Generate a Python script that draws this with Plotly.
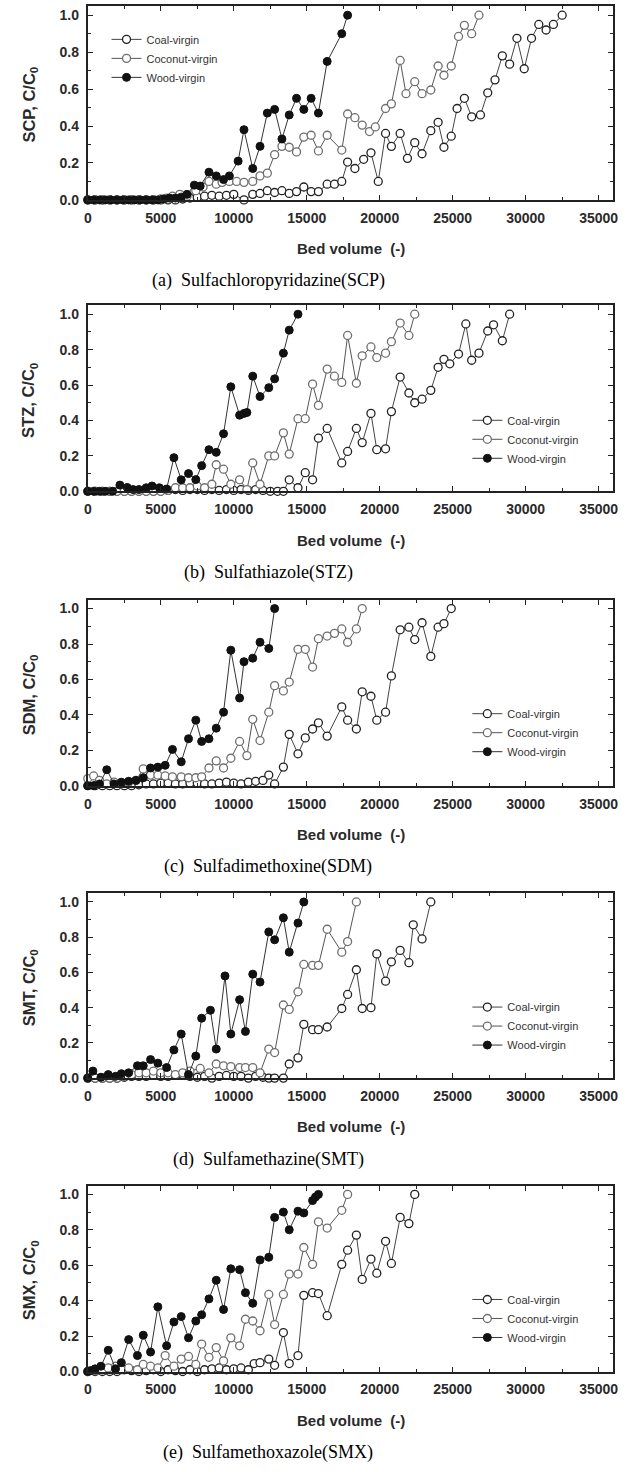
import plotly.graph_objects as go

# ---------------- data ----------------
# (a) SCP
scp_coal_x = [0,500,1000,1500,2000,2500,3000,3500,4000,4500,5000,5500,6000,6500,7000,7500,8000,8500,9000,9500,10000,
              10700,11300,11800,12300,12800,13300,13800,14300,14800,15300,15800,16400,16900,17400,17800,18300,18900,19400,
              19900,20400,20800,21400,21900,22400,22900,23500,24000,24400,24900,25300,25800,26300,26900,27400,27900,28400,
              28900,29400,29900,30400,30900,31400,31900,32500]
scp_coal_y = [0,0,0,0,0,0,0,0,0,0,0,0,0,0.005,0.01,0.015,0.02,0.025,0.02,0.025,0.03,
              0.0,0.03,0.035,0.05,0.04,0.05,0.035,0.045,0.07,0.045,0.045,0.085,0.085,0.1,0.205,0.17,0.22,0.255,
              0.1,0.36,0.29,0.36,0.225,0.31,0.25,0.375,0.42,0.285,0.345,0.495,0.55,0.45,0.46,0.58,0.65,0.78,
              0.735,0.875,0.71,0.875,0.95,0.92,0.95,1.0]
scp_coco_x = [0,500,1000,1500,2000,2500,3000,3500,4000,4500,5000,5400,5800,6300,6800,7400,7900,8300,8800,9200,9700,
              10200,10700,11300,11800,12300,12800,13300,13800,14300,14800,15300,15800,16400,17400,17800,18300,18800,
              19300,19700,20400,20800,21400,21800,22400,22900,23500,24000,24400,24900,25400,25800,26300,26800]
scp_coco_y = [0,0,0,0,0,0,0,0,0,0,0.005,0.01,0.02,0.03,0.02,0.05,0.07,0.1,0.085,0.095,0.1,
              0.1,0.095,0.1,0.13,0.145,0.245,0.29,0.285,0.26,0.34,0.35,0.265,0.35,0.27,0.465,0.445,0.405,
              0.37,0.395,0.495,0.52,0.755,0.575,0.64,0.575,0.595,0.725,0.675,0.725,0.885,0.945,0.9,1.0]
scp_wood_x = [0,400,800,1200,1600,2000,2400,2800,3200,3600,4000,4400,4800,5200,5600,6000,6400,6800,7300,7700,
              8300,8800,9300,9700,10300,10700,11300,11800,12300,12800,13300,13800,14300,14800,15300,15800,16400,17400,17800]
scp_wood_y = [0,0,0,0,0,0,0,0,0,0,0,0,0,0.005,0.01,0.01,0.015,0.03,0.08,0.075,
              0.15,0.13,0.11,0.13,0.21,0.38,0.17,0.29,0.47,0.49,0.33,0.46,0.55,0.49,0.55,0.47,0.75,0.90,1.0]

# (b) STZ
stz_coal_x = [0,500,1000,1500,2000,2500,3000,3500,4000,4500,5000,5500,6000,6500,7000,7500,8000,8500,9000,9500,10000,
              10500,11000,11500,12000,12500,13000,13400,13800,14400,14900,15400,15800,16400,17400,17800,18400,18800,
              19400,19800,20400,20800,21400,22000,22400,22900,23500,24000,24400,24800,25400,25900,26300,26800,27400,
              27800,28400,28900]
stz_coal_y = [0,0,0,0,0,0,0,0,0,0,0,0.005,0.01,0.005,0.01,0.01,0.005,0.01,0.005,0.01,0.005,
              0.01,0.005,0.01,0.005,0.0,0.0,0.0,0.065,0.02,0.105,0.065,0.3,0.355,0.16,0.225,0.355,0.275,
              0.44,0.235,0.24,0.45,0.645,0.555,0.5,0.52,0.57,0.7,0.745,0.72,0.775,0.945,0.74,0.78,0.905,
              0.94,0.85,1.0]
stz_coco_x = [0,500,1000,1500,2000,2500,3000,3500,4000,4500,5000,5500,6000,6500,7000,7500,8000,8500,8800,9300,9800,
              10400,10900,11300,11800,12400,12800,13400,13800,14400,14900,15400,15800,16400,16900,17400,17800,18400,
              18800,19400,19800,20400,20800,21400,22000,22400]
stz_coco_y = [0,0,0,0,0,0,0,0,0,0,0,0.005,0.02,0.02,0.02,0.03,0.02,0.04,0.15,0.125,0.04,
              0.065,0.01,0.16,0.04,0.2,0.2,0.33,0.21,0.41,0.41,0.605,0.485,0.69,0.65,0.615,0.88,0.61,
              0.765,0.815,0.755,0.78,0.845,0.95,0.88,1.0]
stz_wood_x = [0,400,800,1200,1700,2200,2700,3100,3500,4000,4400,4900,5400,5900,6400,6900,7400,7800,8300,8800,9300,
              9800,10400,10700,10900,11300,11800,12400,12800,13400,13800,14400]
stz_wood_y = [0,0,0,0,0,0.035,0.022,0.01,0.01,0.02,0.03,0.02,0.013,0.19,0.065,0.1,0.066,0.145,0.235,0.22,0.325,
              0.59,0.43,0.44,0.445,0.65,0.535,0.585,0.635,0.78,0.91,1.0]

# (c) SDM
sdm_coal_x = [0,500,1000,1500,2000,2500,3000,3500,4000,4500,5000,5500,6000,6500,7000,7500,8000,8500,9000,9500,10000,
              10500,11000,11500,12000,12400,12800,13400,13800,14400,14900,15400,15800,16400,17400,17800,18400,18800,
              19400,19800,20400,20800,21400,22000,22400,22900,23500,24000,24400,24900]
sdm_coal_y = [0,0,0,0,0,0,0,0.005,0.01,0.01,0.015,0.015,0.01,0.01,0.015,0.015,0.01,0.01,0.015,0.02,0.015,
              0.01,0.02,0.025,0.03,0.06,0.01,0.105,0.29,0.18,0.27,0.32,0.355,0.28,0.445,0.37,0.32,0.53,
              0.505,0.37,0.415,0.62,0.88,0.895,0.825,0.92,0.73,0.895,0.915,1.0]
sdm_coco_x = [0,400,800,1300,1800,2300,2800,3300,3800,4300,4800,5300,5800,6400,6900,7400,7800,8300,8800,9300,9800,
              10400,10900,11300,11800,12400,12800,13400,13800,14400,14900,15400,15800,16400,16900,17400,17800,18400,18800]
sdm_coco_y = [0.04,0.055,0.03,0.01,0.02,0.01,0.02,0.03,0.095,0.06,0.06,0.055,0.05,0.05,0.045,0.045,0.05,0.1,0.14,0.1,
              0.155,0.25,0.17,0.375,0.255,0.415,0.565,0.535,0.585,0.77,0.77,0.67,0.83,0.845,0.86,0.885,0.81,0.885,1.0]
sdm_wood_x = [0,400,800,1300,1800,2300,2800,3300,3800,4300,4800,5300,5800,6400,6900,7400,7800,8300,8800,9300,9800,
              10400,10700,11300,11800,12400,12800]
sdm_wood_y = [0,0,0.01,0.09,0.01,0.02,0.025,0.03,0.045,0.1,0.105,0.115,0.205,0.135,0.265,0.37,0.25,0.265,0.325,0.415,
              0.765,0.495,0.7,0.72,0.81,0.775,1.0]

# (d) SMT
smt_coal_x = [0,500,1000,1500,2000,2500,3000,3500,4000,4500,5000,5500,6000,6500,7000,7500,8000,8500,9000,9500,10000,
              10500,11000,11500,12000,12400,12800,13400,13800,14400,14800,15400,15800,16400,17400,17800,18400,18800,
              19400,19800,20400,20800,21400,22000,22300,22900,23500]
smt_coal_y = [0,0,0,0,0,0.005,0.01,0.01,0.01,0.015,0.01,0.01,0.015,0.02,0.01,0.005,0.01,0.0,0.01,0.015,0.01,
              0.01,0.0,0.01,0.005,0.0,0.0,0.0,0.08,0.115,0.305,0.275,0.275,0.29,0.395,0.475,0.615,0.395,
              0.4,0.705,0.55,0.66,0.725,0.655,0.87,0.79,1.0]
smt_coco_x = [0,500,1000,1500,2000,2500,3000,3500,4000,4500,5000,5500,6000,6500,7000,7700,8300,8800,9300,9800,
              10400,10800,11300,11800,12400,12800,13400,13800,14400,14800,15400,15800,16400,17400,17800,18400]
smt_coco_y = [0,0,0,0,0,0.01,0.02,0.03,0.03,0.04,0.03,0.03,0.02,0.03,0.04,0.055,0.03,0.08,0.07,0.065,
              0.06,0.06,0.06,0.03,0.165,0.145,0.415,0.39,0.49,0.645,0.64,0.64,0.845,0.715,0.775,1.0]
smt_wood_x = [0,350,900,1400,1900,2300,2800,3400,3800,4300,4800,5400,5900,6400,6900,7400,7800,8400,8800,9400,9800,
              10400,10800,11300,11800,12400,12800,13400,13800,14400,14800]
smt_wood_y = [0,0.04,0.005,0.02,0.01,0.025,0.03,0.07,0.07,0.105,0.085,0.06,0.16,0.25,0.02,0.125,0.34,0.385,0.165,0.58,
              0.25,0.445,0.265,0.59,0.545,0.83,0.785,0.91,0.715,0.88,1.0]

# (e) SMX
smx_coal_x = [0,500,1000,1500,2000,2500,3000,3500,4000,4500,5000,5500,6000,6500,7000,7500,8000,8500,9000,9500,10000,
              10500,11000,11400,11800,12400,12800,13400,13800,14400,14800,15400,15800,16400,17400,17800,18400,18800,
              19400,19800,20400,20800,21400,22000,22400]
smx_coal_y = [0,0,0,0,0,0.01,0.005,0.0,0.005,0.01,0.0,0.01,0.005,0.0,0.01,0.0,0.01,0.015,0.02,0.01,0.015,
              0.02,0.01,0.045,0.05,0.07,0.035,0.22,0.045,0.09,0.43,0.445,0.44,0.315,0.605,0.685,0.77,0.52,
              0.635,0.555,0.735,0.61,0.87,0.835,1.0]
smx_coco_x = [0,500,1000,1400,1900,2300,2800,3400,3800,4300,4800,5300,5900,6400,6900,7400,7800,8300,8800,9300,9800,
              10400,10800,11300,11800,12400,12800,13400,13800,14400,14800,15400,15800,16400,17400,17800]
smx_coco_y = [0,0.005,0.01,0.02,0.03,0.01,0.02,0.01,0.04,0.03,0.02,0.09,0.03,0.07,0.085,0.04,0.155,0.08,0.135,0.06,
              0.19,0.145,0.295,0.285,0.23,0.435,0.265,0.435,0.55,0.55,0.7,0.605,0.845,0.81,0.91,1.0]
smx_wood_x = [0,200,500,900,1400,1900,2300,2800,3400,3800,4300,4800,5400,5900,6400,6900,7400,7800,8300,8800,9300,
              9800,10400,10800,11300,11800,12400,12800,13400,13800,14400,14800,15400,15600,15800]
smx_wood_y = [0,0.005,0.015,0.03,0.12,0.015,0.05,0.18,0.09,0.205,0.11,0.365,0.145,0.28,0.31,0.19,0.285,0.32,0.41,0.515,
              0.35,0.58,0.575,0.445,0.385,0.63,0.645,0.87,0.9,0.8,0.905,0.895,0.965,0.985,1.0]

series_names = ["Coal-virgin", "Coconut-virgin", "Wood-virgin"]
x_ticks = [0, 5000, 10000, 15000, 20000, 25000, 30000, 35000]
y_ticks = [0.0, 0.2, 0.4, 0.6, 0.8, 1.0]

panel_data = [
    ("SCP", "(a)  Sulfachloropyridazine(SCP)", [(scp_coal_x, scp_coal_y), (scp_coco_x, scp_coco_y), (scp_wood_x, scp_wood_y)]),
    ("STZ", "(b)  Sulfathiazole(STZ)", [(stz_coal_x, stz_coal_y), (stz_coco_x, stz_coco_y), (stz_wood_x, stz_wood_y)]),
    ("SDM", "(c)  Sulfadimethoxine(SDM)", [(sdm_coal_x, sdm_coal_y), (sdm_coco_x, sdm_coco_y), (sdm_wood_x, sdm_wood_y)]),
    ("SMT", "(d)  Sulfamethazine(SMT)", [(smt_coal_x, smt_coal_y), (smt_coco_x, smt_coco_y), (smt_wood_x, smt_wood_y)]),
    ("SMX", "(e)  Sulfamethoxazole(SMX)", [(smx_coal_x, smx_coal_y), (smx_coco_x, smx_coco_y), (smx_wood_x, smx_wood_y)]),
]

# ---------------- layout geometry (pixels) ----------------
W, H = 636, 1472
XL, XR = 85, 618
boxes = [(6, 201), (307, 494), (603, 790), (898, 1084), (1192, 1379)]
legend_pos = [(104, 25), (470, 408), (470, 703), (470, 998), (470, 1292)]

styles = [
    dict(line=dict(color="#444444", width=1),
         marker=dict(symbol="circle", size=8, color="white", line=dict(color="#222222", width=1.3))),
    dict(line=dict(color="#555555", width=1),
         marker=dict(symbol="circle", size=8, color="white", line=dict(color="#6f6f6f", width=1.3))),
    dict(line=dict(color="#333333", width=1),
         marker=dict(symbol="circle", size=8, color="#111111", line=dict(color="#111111", width=1))),
]

def py(p):
    return 1 - p / H

def px(p):
    return p / W

fig = go.Figure()
annotations = []
layout = dict(width=W, height=H, margin=dict(l=0, r=0, t=0, b=0),
              paper_bgcolor="white", plot_bgcolor="white", showlegend=True)

tickfont = dict(family="Liberation Sans, Arial", size=14, color="#2a2a2a", weight="bold")
xtitlefont = dict(family="Liberation Sans, Arial", size=15, color="#2a2a2a", weight="bold")
ytitlefont = dict(family="Liberation Sans, Arial", size=16.5, color="#2a2a2a", weight="bold")

for i, (abbr, caption, series) in enumerate(panel_data):
    n = "" if i == 0 else str(i + 1)
    top, bot = boxes[i]
    legname = "legend" + n
    for (xs, ys), name, st in zip(series, series_names, styles):
        fig.add_trace(go.Scatter(x=xs, y=ys, mode="lines+markers", name=name,
                                 line=st["line"], marker=st["marker"], cliponaxis=False,
                                 xaxis="x" + n, yaxis="y" + n, legend=legname))
    axis_common = dict(showline=True, linewidth=2, linecolor="#222222", mirror="ticks",
                       ticks="inside", ticklen=5, tickwidth=1.2, tickcolor="#222222",
                       showgrid=False, zeroline=False, tickfont=tickfont, ticklabelstandoff=4)
    layout["xaxis" + n] = dict(axis_common, domain=[px(XL), px(XR)], range=[0, 36000],
                               tickvals=x_ticks, tickformat="d", anchor="y" + n,
                               minor=dict(tickvals=[2500 + 5000 * k for k in range(7)],
                                          ticks="inside", ticklen=3, tickcolor="#222222"))
    layout["yaxis" + n] = dict(axis_common, domain=[py(bot), py(top)], range=[0, 1.05],
                               tickvals=y_ticks, tickformat=".1f", anchor="x" + n,
                               minor=dict(tickvals=[0.1, 0.3, 0.5, 0.7, 0.9],
                                          ticks="inside", ticklen=3, tickcolor="#222222"))
    lx, ly = legend_pos[i]
    layout[legname] = dict(x=px(lx), y=py(ly), xanchor="left", yanchor="top",
                           bgcolor="rgba(0,0,0,0)", borderwidth=0, itemwidth=30,
                           font=dict(family="Liberation Sans, Arial", size=11, color="#333333"))
    # y title
    annotations.append(dict(x=px(26), y=py((top + bot) / 2 + 2), xref="paper", yref="paper",
                            text=f"{abbr}, C/C<sub>0</sub>", textangle=-90, showarrow=False,
                            font=ytitlefont, xanchor="center", yanchor="middle"))
    # x title
    annotations.append(dict(x=px((XL + XR) / 2), y=py(bot + 49), xref="paper", yref="paper",
                            text="Bed volume  (-)", showarrow=False, font=xtitlefont,
                            xanchor="center", yanchor="middle"))
    # caption
    annotations.append(dict(x=px(268), y=py(bot + 81.5), xref="paper", yref="paper",
                            text=caption, showarrow=False,
                            font=dict(family="Liberation Serif, Times New Roman", size=18, color="black"),
                            xanchor="center", yanchor="middle"))

layout["annotations"] = annotations
fig.update_layout(**layout)
fig.write_html("out.html")
